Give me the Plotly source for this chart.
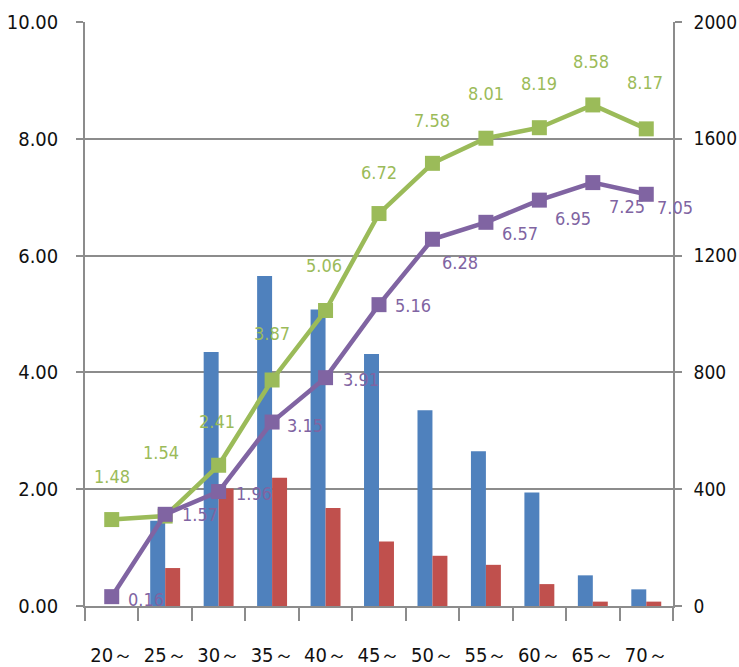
import plotly.graph_objects as go

# Age bands
categories = ["20～", "25～", "30～", "35～", "40～", "45～", "50～", "55～", "60～", "65～", "70～"]

# Bar series (right axis, 0-2000)
blue_bars = [0, 292, 870, 1130, 1015, 863, 670, 530, 389, 105, 57]
red_bars = [0, 130, 402, 439, 336, 221, 172, 141, 75, 15, 15]

# Line series (left axis, 0-10)
green_line = [1.48, 1.54, 2.41, 3.87, 5.06, 6.72, 7.58, 8.01, 8.19, 8.58, 8.17]
purple_line = [0.16, 1.57, 1.96, 3.15, 3.91, 5.16, 6.28, 6.57, 6.95, 7.25, 7.05]

# Axis tick values
left_ticks = [0, 2, 4, 6, 8, 10]
right_ticks = [0, 400, 800, 1200, 1600, 2000]

BLUE = "#4F81BD"
RED = "#C0504D"
GREEN = "#9BBB59"
PURPLE = "#8064A2"
GRID = "#8C8C8C"
FONT = "DejaVu Sans Condensed, Liberation Sans, sans-serif"

# Per-label pixel offsets for the value labels
green_dx = [0, -4, -2, 0, -2, 0, 0, 0, 0, -2, -1]
green_dy = [43, 64, 44, 46, 45, 41, 43, 45, 44, 43, 46]
purple_dx = [34, 35, 35, 33, 35, 34, 28, 34, 34, 34, 29]
purple_dy = [-3, 0, -2, -3, -2, -1, -23, -11, -18, -24, -13]

fig = go.Figure()

fig.add_trace(go.Bar(x=categories, y=blue_bars, marker_color=BLUE, yaxis="y",
                     showlegend=False, marker_line_width=0))
fig.add_trace(go.Bar(x=categories, y=red_bars, marker_color=RED, yaxis="y",
                     showlegend=False, marker_line_width=0))

fig.add_trace(go.Scatter(x=categories, y=green_line, yaxis="y2", mode="lines+markers",
                         line=dict(color=GREEN, width=4.5),
                         marker=dict(symbol="square", size=15, color=GREEN),
                         showlegend=False))
fig.add_trace(go.Scatter(x=categories, y=purple_line, yaxis="y2", mode="lines+markers",
                         line=dict(color=PURPLE, width=4.5),
                         marker=dict(symbol="square", size=15, color=PURPLE),
                         showlegend=False))

annotations = []
for c, v, dx, dy in zip(categories, green_line, green_dx, green_dy):
    annotations.append(dict(x=c, y=v, xref="x", yref="y2", text=f"{v:.2f}",
                            showarrow=False, xshift=dx, yshift=dy,
                            font=dict(family=FONT, size=18, color=GREEN)))
for c, v, dx, dy in zip(categories, purple_line, purple_dx, purple_dy):
    annotations.append(dict(x=c, y=v, xref="x", yref="y2", text=f"{v:.2f}",
                            showarrow=False, xshift=dx, yshift=dy,
                            font=dict(family=FONT, size=18, color=PURPLE)))

fig.update_layout(
    width=739, height=667,
    margin=dict(l=85, r=66, t=22, b=61),
    paper_bgcolor="white", plot_bgcolor="white",
    barmode="group", bargap=0.44, bargroupgap=0,
    font=dict(family=FONT, size=20, color="#111111"),
    annotations=annotations,
    xaxis=dict(
        type="category", range=[-0.5, len(categories) - 0.5],
        showgrid=False, showline=True, linecolor=GRID, linewidth=1.5,
        ticks="outside", tickson="boundaries", ticklen=13, tickcolor=GRID, tickwidth=1.5,
        tickangle=0, automargin=False,
        ticklabelstandoff=30, tickfont=dict(family=FONT, size=20),
    ),
    yaxis=dict(
        side="right", range=[0, 2000], tickvals=right_ticks, automargin=False,
        showgrid=True, gridcolor=GRID, gridwidth=1.5, zeroline=False,
        showline=True, linecolor=GRID, linewidth=1.5,
        ticks="outside", ticklen=7, tickcolor=GRID, tickwidth=1.5,
        ticklabelstandoff=8, tickfont=dict(family=FONT, size=19),
    ),
    yaxis2=dict(
        side="left", overlaying="y", range=[0, 10], tickvals=left_ticks,
        tickformat=".2f", showgrid=False, zeroline=False, automargin=False,
        showline=True, linecolor=GRID, linewidth=1.5,
        ticks="outside", ticklen=7, tickcolor=GRID, tickwidth=1.5,
        ticklabelstandoff=14, tickfont=dict(family=FONT, size=20),
    ),
)

fig.write_html("out.html")
